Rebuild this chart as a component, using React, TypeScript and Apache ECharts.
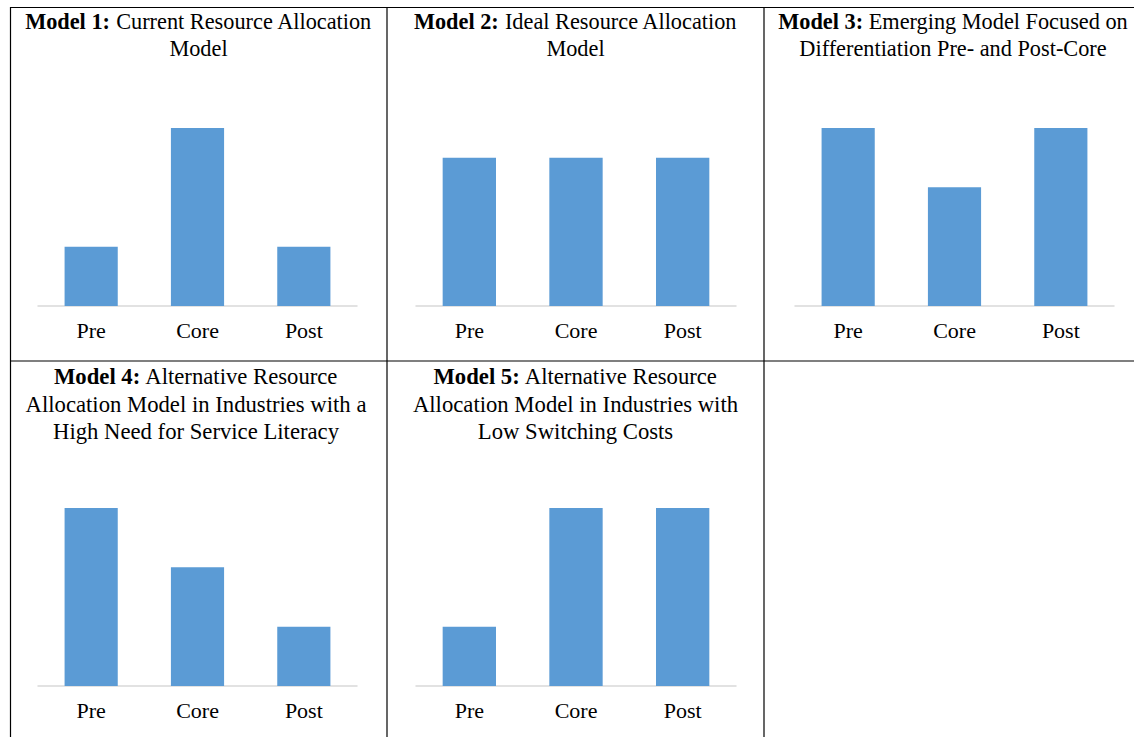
import React, { useEffect, useRef } from "react";
import * as echarts from "echarts";

const categories = ["Pre", "Core", "Post"];
const model1 = [1, 3, 1];
const model2 = [2.5, 2.5, 2.5];
const model3 = [3, 2, 3];
const model4 = [3, 2, 1];
const model5 = [1, 3, 3];

const titleBold = ["Model 1:", "Model 2:", "Model 3:", "Model 4:", "Model 5:"];
const titleRest = [
  " Current Resource Allocation\nModel",
  " Ideal Resource Allocation\nModel",
  " Emerging Model Focused on\nDifferentiation Pre- and Post-Core",
  " Alternative Resource\nAllocation Model in Industries with a\nHigh Need for Service Literacy",
  " Alternative Resource\nAllocation Model in Industries with\nLow Switching Costs",
];

const FONT = "Liberation Serif";
const BAR = "#5b9bd5";

export default function App() {
  const ref = useRef<HTMLDivElement>(null);
  useEffect(() => {
    if (!ref.current) return;
    const chart = echarts.init(ref.current, undefined, { renderer: "svg" });
    const datasets = [model1, model2, model3, model4, model5];
    const grids = [
      { left: 38, top: 128, width: 319, height: 178 },
      { left: 416, top: 128, width: 320, height: 178 },
      { left: 795, top: 128, width: 319, height: 178 },
      { left: 38, top: 508, width: 319, height: 178 },
      { left: 416, top: 508, width: 320, height: 178 },
    ];
    const centers = [198.5, 575.5, 953, 196, 575.5];
    const titleY = [8, 8, 8, 363, 363];
    const lh = [27, 27, 27, 27.5, 27.5];
    const fs = [22.3, 22.3, 22.3, 22.7, 22.7];

    const lines = [
      { x1: 10, y1: 7.5, x2: 1134, y2: 7.5 },
      { x1: 10, y1: 361, x2: 1134, y2: 361 },
      { x1: 10.5, y1: 7, x2: 10.5, y2: 737 },
      { x1: 387, y1: 7, x2: 387, y2: 737 },
      { x1: 764, y1: 7, x2: 764, y2: 737 },
    ];

    const graphic: any[] = lines.map((s) => ({
      type: "line",
      shape: s,
      style: { stroke: "#000", lineWidth: 1.2 },
      silent: true,
    }));
    titleBold.forEach((b, i) => {
      const rest = titleRest[i].split("\n");
      const txt = "{b|" + b + "}{r|" + rest[0] + "}" + rest.slice(1).map((l) => "\n{r|" + l + "}").join("");
      graphic.push({
        type: "text",
        x: centers[i],
        y: titleY[i],
        silent: true,
        style: {
          text: txt,
          align: "center",
          verticalAlign: "top",
          fontFamily: FONT,
          fontSize: fs[i],
          rich: {
            b: { fontFamily: FONT, fontWeight: "bold", fontSize: fs[i], lineHeight: lh[i], fill: "#000" },
            r: { fontFamily: FONT, fontSize: fs[i], lineHeight: lh[i], fill: "#000" },
          },
        },
      });
    });

    chart.setOption({
      animation: false,
      textStyle: { fontFamily: FONT },
      grid: grids,
      xAxis: grids.map((_, i) => ({
        type: "category",
        gridIndex: i,
        data: categories,
        axisLine: { lineStyle: { color: "#d9d9d9", width: 1.5 } },
        axisTick: { show: false },
        axisLabel: { fontFamily: FONT, fontSize: 22, color: "#000", margin: 13 },
      })),
      yAxis: grids.map((_, i) => ({
        type: "value",
        gridIndex: i,
        min: 0,
        max: 3,
        show: false,
        splitLine: { show: false },
      })),
      series: datasets.map((d, i) => ({
        type: "bar",
        xAxisIndex: i,
        yAxisIndex: i,
        data: d,
        barWidth: "50%",
        itemStyle: { color: BAR },
      })),
      graphic,
    });
    return () => chart.dispose();
  }, []);
  return (
    <div
      ref={ref}
      style={{ position: "fixed", left: 0, top: 0, width: 1134, height: 737, background: "#fff" }}
    />
  );
}
